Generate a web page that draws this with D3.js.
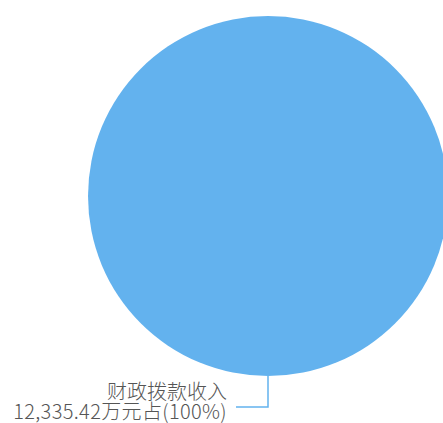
<!DOCTYPE html>
<html>
<head>
<meta charset="utf-8">
<script src="https://cdn.jsdelivr.net/npm/d3@7"></script>
<style>
  html, body { margin: 0; padding: 0; background: #fff; }
  svg { display: block; }
</style>
</head>
<body>
<svg id="chart" width="443" height="423"></svg>
<script>
var categories = ["财政拨款收入"];
var values = [12335.42];
var valueLabels = ["12,335.42"];
var colors = ["#63b2ee"];

var svg = d3.select("#chart");
var cx = 268, cy = 196, radius = 180;

var total = d3.sum(values);
var pie = d3.pie().sort(null).value(function(d){ return d.v; });
var data = pie(values.map(function(v, i){ return {v: v, name: categories[i], label: valueLabels[i]}; }));

var arc = d3.arc().innerRadius(0).outerRadius(radius);
var edgeArc = d3.arc().innerRadius(radius).outerRadius(radius);
var outArc = d3.arc().innerRadius(radius + 31).outerRadius(radius + 31);

var g = svg.append("g").attr("transform", "translate(" + cx + "," + cy + ")");

g.selectAll("path.slice")
    .data(data)
    .enter()
    .append("path")
    .attr("class", "slice")
    .attr("d", arc)
    .style("fill", function(d, i){ return colors[i]; });

// label lines
g.selectAll("polyline")
    .data(data)
    .enter()
    .append("polyline")
    .attr("points", function(d){
        var a = edgeArc.centroid(d);
        var b = outArc.centroid(d);
        var c = [b[0] - 32, b[1]];
        return [a, b, c].map(function(p){ return p.join(","); }).join(" ");
    })
    .style("fill", "none")
    .style("stroke", colors[0])
    .style("stroke-width", 1.5);

var labels = g.selectAll("text.lbl")
    .data(data)
    .enter()
    .append("text")
    .attr("class", "lbl")
    .attr("text-anchor", "end")
    .style("font-family", "'Noto Sans CJK SC', 'Noto Sans', sans-serif")
    .style("font-weight", 300)
    .style("font-size", "20px")
    .style("fill", "#555");

labels.append("tspan")
    .attr("x", function(d){ return outArc.centroid(d)[0] - 41; })
    .attr("y", function(d){ return outArc.centroid(d)[1] - 8; })
    .text(function(d){ return d.data.name; });

labels.append("tspan")
    .attr("x", function(d){ return outArc.centroid(d)[0] - 41; })
    .attr("y", function(d){ return outArc.centroid(d)[1] + 12; })
    .style("letter-spacing", "0.35px")
    .text(function(d){
        return d.data.label + "万元占(" + Math.round(d.data.v / total * 100) + "%)";
    });
</script>
</body>
</html>
